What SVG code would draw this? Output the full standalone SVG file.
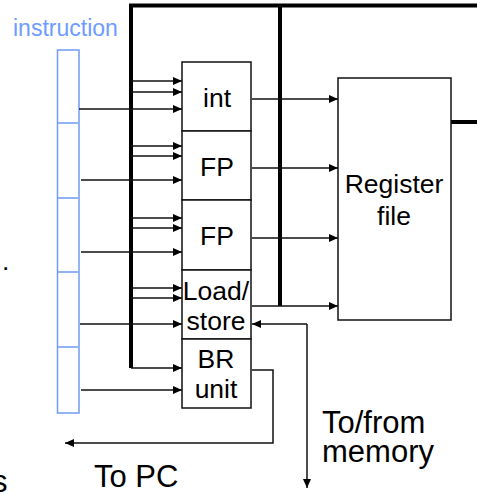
<svg xmlns="http://www.w3.org/2000/svg" width="477" height="494" viewBox="0 0 477 494">
<style>
.box{fill:#fff;stroke:#111;stroke-width:1.5}
.ir{fill:#fff;stroke:#6f9cf5;stroke-width:1.5}
.lbl{font-family:"Liberation Sans",Arial,sans-serif;font-size:26.5px;fill:#000;text-anchor:middle}
.big{font-family:"Liberation Sans",Arial,sans-serif;font-size:31px;fill:#000}
.ins{font-family:"Liberation Sans",Arial,sans-serif;font-size:23px;fill:#6d9bff}
.w{fill:none;stroke:#111;stroke-width:1.5}
.bus{fill:none;stroke:#000;stroke-width:4}
</style>
<defs>
<marker id="ah" markerUnits="userSpaceOnUse" markerWidth="9" markerHeight="8" refX="9" refY="4" orient="auto">
<path d="M0,0 L9,4 L0,8 Z" fill="#000"/>
</marker>
</defs>
<rect width="477" height="494" fill="#fff"/>
<g id="stray">
<text class="lbl" x="2" y="270" style="text-anchor:start">.</text>
<text class="big" x="-8" y="492">s</text>
</g>
<g id="instruction-register">
<text class="ins" x="13" y="36">instruction</text>
<rect class="ir" x="57.5" y="50" width="21.5" height="363"/>
<path d="M58 123H78M58 198H78M58 272H78M58 347H78" stroke="#6f9cf5" stroke-width="1.5"/>
</g>
<g id="connectors">
<path class="bus" d="M131 368V5.5H477M280 5.5V306"/>
<path class="bus" d="M451 122H477"/>
<g class="w" marker-end="url(#ah)">
<path d="M131 81H182"/><path d="M131 92H182"/><path d="M79 109H182"/>
<path d="M131 146H182"/><path d="M131 156H182"/><path d="M81 180H182"/>
<path d="M131 218H182"/><path d="M131 228H182"/><path d="M81 252H182"/>
<path d="M131 288H182"/><path d="M131 298H182"/><path d="M80 324H182"/>
<path d="M131 368H182"/><path d="M81 390H182"/>
<path d="M252 99H338"/><path d="M252 168H338"/><path d="M252 238H338"/><path d="M252 306H338"/>
<path d="M307 324H252"/>
<path d="M307 324V488"/>
<path d="M252 370H273V443H65"/>
</g>
</g>
<g id="int"><rect class="box" x="182" y="62" width="69" height="69"/><text class="lbl" x="217" y="107">int</text></g>
<g id="fp1"><rect class="box" x="182" y="131" width="69" height="69"/><text class="lbl" x="217" y="176">FP</text></g>
<g id="fp2"><rect class="box" x="182" y="200" width="69" height="70"/><text class="lbl" x="217" y="245">FP</text></g>
<g id="loadstore"><rect class="box" x="182" y="270" width="69" height="69"/><text class="lbl" x="216" y="300">Load/</text><text class="lbl" x="216" y="330">store</text></g>
<g id="br"><rect class="box" x="182" y="339" width="69" height="69"/><text class="lbl" x="216" y="368">BR</text><text class="lbl" x="216" y="398">unit</text></g>
<g id="regfile"><rect class="box" x="338" y="78" width="113" height="242"/><text class="lbl" x="394" y="193">Register</text><text class="lbl" x="394" y="225">file</text></g>
<g id="labels">
<text class="big" x="322" y="433">To/from</text>
<text class="big" x="322" y="462">memory</text>
<text class="big" x="94" y="487">To PC</text>
</g>
</svg>
